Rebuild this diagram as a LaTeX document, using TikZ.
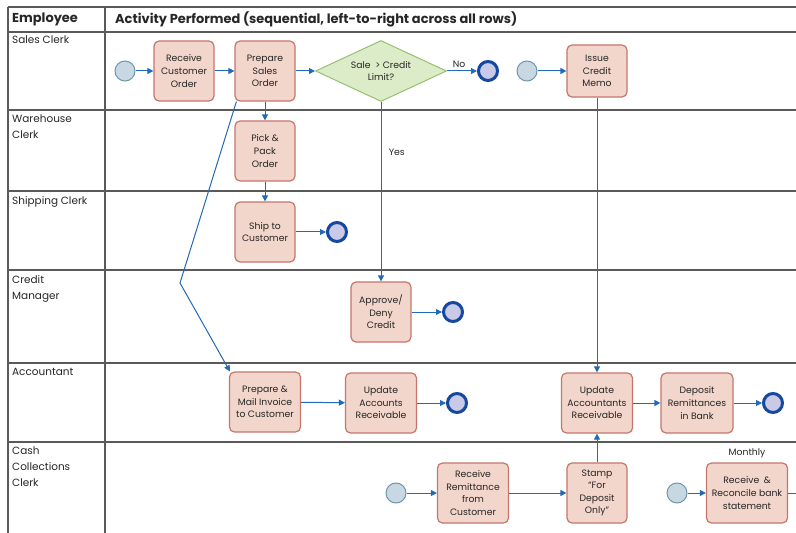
\documentclass[tikz,border=0pt]{standalone}
\usepackage{fontspec}
\setmainfont{Poppins}
\usepackage{tikz}
\usetikzlibrary{arrows.meta}
\usetikzlibrary{shapes.geometric}
\usetikzlibrary{positioning,calc}

\definecolor{boxfill}{RGB}{242,214,203}
\definecolor{boxline}{RGB}{196,118,108}
\definecolor{decfill}{RGB}{221,236,200}
\definecolor{decline}{RGB}{150,192,110}
\definecolor{startfill}{RGB}{200,216,226}
\definecolor{startline}{RGB}{112,150,170}
\definecolor{endfill}{RGB}{200,202,232}
\definecolor{endline}{RGB}{22,72,160}
\definecolor{flow}{RGB}{35,105,185}
\definecolor{gridline}{RGB}{90,90,90}

\begin{document}
\begin{tikzpicture}[x=1bp,y=-1bp,
			every node/.style={font=\fontsize{9.3}{12.6}\selectfont,text=black!85},
			activity/.style={draw=boxline,fill=boxfill,rounded corners=5bp,line width=1.2bp,
				minimum width=60bp,minimum height=60bp,align=center,inner sep=1bp},
			decision/.style={diamond,aspect=2.15,draw=decline,fill=decfill,line width=1bp,
				minimum width=131bp,minimum height=61bp,inner sep=0pt,align=center},
			startev/.style={circle,draw=startline,fill=startfill,line width=1bp,minimum size=20bp,inner sep=0pt},
			endev/.style={circle,draw=endline,fill=endfill,line width=3bp,minimum size=19bp,inner sep=0pt},
			flowarrow/.style={draw=flow,line width=1bp,-{Triangle[length=6bp,width=6bp]}},
			lane/.style={draw=gridline,line width=1.3bp},
			lanelabel/.style={anchor=north west,align=left,inner sep=0pt,
				font=\fontsize{10.5}{16}\selectfont},
			headlabel/.style={anchor=west,inner sep=0pt,font=\fontsize{13}{15}\selectfont\bfseries}
			]
			\useasboundingbox (0,0) rectangle (796,533);
			
			% swimlane grid
			\draw[lane] (8,7) -- (796,7);
			\foreach \y in {32,110,191,270,363,442}
				\draw[lane] (8,\y) -- (796,\y);
			\draw[lane] (8,7) -- (8,533);
			\draw[lane] (105,7) -- (105,533);
			
			\node[headlabel] (emphead) at (12,19) {Employee};
			\node[headlabel] (acthead) at (115,19) {Activity Performed (sequential, left-to-right across all rows)};
			\node[lanelabel] (sales) at (12,36) {Sales Clerk};
			\node[lanelabel] (wareh) at (12,115) {Warehouse\\Clerk};
			\node[lanelabel] (shipc) at (12,196) {Shipping Clerk};
			\node[lanelabel] (credm) at (12,275) {Credit\\Manager};
			\node[lanelabel] (accnt) at (12,368) {Accountant};
			\node[lanelabel] (cashc) at (12,447) {Cash\\Collections\\Clerk};
			
			% sales clerk
			\node[startev] (s1) at (125,71) {};
			\node[activity] (recv) at (184,71) {Receive\\Customer\\Order};
			\node[activity] (prep) at (265,71) {Prepare\\Sales\\Order};
			\node[decision] (dec) at (381,71) {Sale\enspace> Credit\\Limit?};
			\node[endev] (e1) at (488,71) {};
			\node[startev] (s2) at (527,71) {};
			\node[activity,minimum height=52bp] (memo) at (597,71) {Issue\\Credit\\Memo};
			
			% warehouse, shipping, credit
			\node[activity] (pick) at (265,151) {Pick \&\\Pack\\Order};
			\node[activity] (ship) at (265,232) {Ship to\\Customer};
			\node[endev] (e2) at (337,232) {};
			\node[activity] (appr) at (381,312) {Approve/\\Deny\\Credit};
			\node[endev] (e3) at (453,312) {};
			
			% accountant
			\node[activity,minimum width=71bp] (inv) at (265,402) {Prepare \&\\Mail Invoice\\to Customer};
			\node[activity,minimum width=71bp] (upd) at (381,403) {Update\\Accounts\\Receivable};
			\node[endev] (e4) at (457,403) {};
			\node[activity,minimum width=71bp] (updr) at (597,403) {Update\\Accountants\\Receivable};
			\node[activity,minimum width=72bp] (dep) at (697,403) {Deposit\\Remittances\\in Bank};
			\node[endev] (e5) at (773,403) {};
			
			% cash collections
			\node[startev] (s3) at (396,493) {};
			\node[activity,minimum width=71bp] (remit) at (473,493) {Receive\\Remittance\\from\\Customer};
			\node[activity] (stamp) at (597,493) {Stamp\\``For\\Deposit\\Only''};
			\node[startev] (s4) at (677,493) {};
			\node[activity,minimum width=81bp] (recon) at (747,493) {Receive\enspace\&\\Reconcile bank\\statement};
			\node[above=1bp of recon] (monthly) {Monthly};
			\coordinate (bend) at (180,283);
			\coordinate (offedge) at (796,493);
			
			\draw[flowarrow] (s1) -- (recv);
			\draw[flowarrow] (recv) -- (prep);
			\draw[flowarrow] (prep) -- (dec);
			\draw[flowarrow] (dec) -- node[above,pos=0.4] (nolbl) {No} (e1);
			\draw[flowarrow] (dec.south) -- node[right=4bp,pos=0.28] (yeslbl) {Yes} (appr.north);
			\draw[flowarrow] (prep) -- (pick);
			\draw[flowarrow] (pick) -- (ship);
			\draw[flowarrow] (ship) -- (e2);
			\draw[flowarrow] (appr) -- (e3);
			\draw[flowarrow] ([xshift=2bp]prep.south west) -- (bend) -- ([xshift=1bp]inv.north west);
			\draw[flowarrow] (inv) -- (upd);
			\draw[flowarrow] (upd) -- (e4);
			\draw[flowarrow] (s2) -- (memo);
			\draw[flowarrow] (memo) -- (updr);
			\draw[flowarrow] (updr) -- (dep);
			\draw[flowarrow] (dep) -- (e5);
			\draw[flowarrow] (s3) -- (remit);
			\draw[flowarrow] (remit) -- (stamp);
			\draw[flowarrow] (stamp) -- (updr);
			\draw[flowarrow] (s4) -- (recon);
			\draw[draw=flow,line width=1bp] (recon) -- (offedge);
		\end{tikzpicture}
\end{document}
